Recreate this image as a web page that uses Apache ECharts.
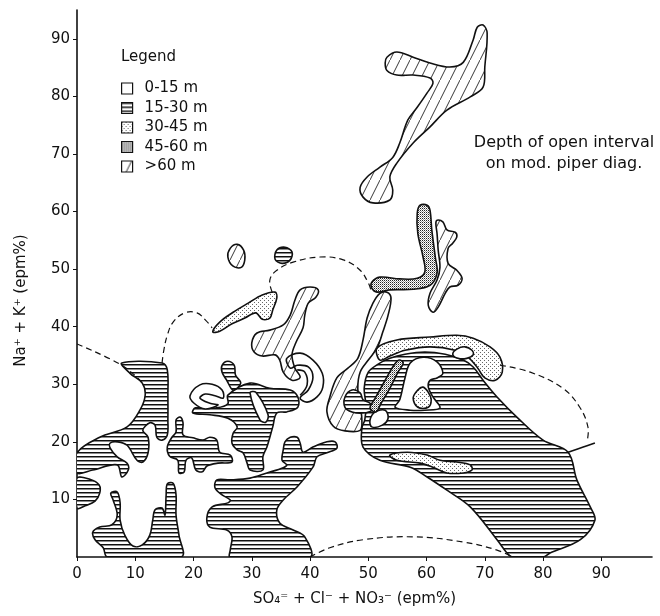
<!DOCTYPE html>
<html><head><meta charset="utf-8">
<script src="https://cdn.jsdelivr.net/npm/echarts/dist/echarts.min.js"></script>
<style>html,body{margin:0;padding:0;background:#fff}#c{width:660px;height:616px}</style>
</head><body><div id="c"></div>
<script>
// ---- axis ticks / classes ----
const xTickValues = [0,10,20,30,40,50,60,70,80,90];
const yTickValues = [10,20,30,40,50,60,70,80,90];
const depthClasses = ['0-15 m','15-30 m','30-45 m','45-60 m','>60 m'];

// ---- 15-30 m (horizontal hatch) regions, in (SO4+Cl+NO3, Na+K) epm% ----
const hatchA = [[0,18.1],[3.9,20.8],[8.6,22.6],[10.8,25.5],[11.7,28.1],[11.2,30.2],[9.1,31.9],[7.7,33.7],[14.6,33.7],[15.5,32.5],[15.6,28.1],[15.6,23.8],[15.5,21.2],[14.6,20.3],[13.7,20.8],[13.4,22.9],[12.5,23.3],[11.3,22.0],[12.2,20.8],[12.2,18.1],[11.3,16.5],[10.3,16.8],[8.6,19.4],[7.0,20.0],[5.7,19.8],[5.7,18.9],[6.9,17.4],[8.6,16.3],[8.8,15.1],[7.7,13.9],[6.9,16.0],[2.7,15.1],[0,14.6]];
const hatchB = [[0,13.7],[2.2,13.5],[3.8,12.5],[3.9,11.1],[3.1,9.7],[1.4,8.9],[0,8.5]];
const hatchC = [[5.2,0],[4.5,1.6],[3.1,3.0],[2.7,4.3],[3.9,5.2],[6.0,5.6],[6.9,7.3],[6.2,9.9],[5.8,11.1],[6.9,11.3],[7.4,9.4],[7.4,6.4],[8.2,3.8],[9.6,1.9],[11.2,2.1],[12.5,3.8],[13.0,6.4],[13.4,8.2],[14.6,8.5],[15.1,7.3],[15.3,10.8],[15.5,12.7],[16.5,12.8],[17.0,10.8],[17.0,7.3],[17.5,3.8],[17.9,0]];
const hatchD = [[15.5,19.1],[16.3,20.8],[17.0,21.7],[17.0,23.8],[17.7,24.3],[18.2,23.3],[18.2,21.2],[19.9,20.7],[21.6,20.3],[22.8,20.8],[24.0,20.3],[24.5,18.2],[26.3,17.7],[26.6,16.5],[24.2,16.3],[22.3,15.8],[21.5,14.8],[20.4,15.1],[19.7,17.2],[18.7,16.8],[18.4,14.8],[17.5,14.6],[17.3,16.8],[15.9,17.5]];
const hatchE = [[26.3,0],[40.0,0],[39.1,3.5],[37.1,4.7],[34.8,5.9],[34.3,8.2],[35.4,9.9],[37.8,12.2],[40.5,15.6],[41.2,17.4],[42.9,18.1],[44.6,18.9],[44.3,20.0],[42.9,20.0],[40.5,19.1],[38.8,18.2],[38.3,19.8],[37.8,20.8],[36.6,20.8],[35.7,20.0],[35.4,18.6],[35.2,16.8],[36.0,16.0],[35.4,15.5],[32.6,14.6],[29.7,13.7],[26.3,13.4],[24.0,13.4],[23.7,12.0],[24.9,10.8],[26.3,9.9],[25.9,9.4],[23.2,8.7],[22.3,6.9],[22.8,5.2],[25.7,4.7],[26.6,3.5],[26.3,1.2]];
const hatchF = [[48.9,22.4],[49.1,19.1],[52.0,16.8],[57.2,15.6],[60.1,13.9],[63.5,11.6],[67.5,8.7],[72.1,3.0],[73.8,0.7],[74.7,0],[80.0,0],[81.2,0.7],[86.4,3.0],[88.9,6.4],[88.1,8.7],[85.8,13.4],[84.3,18.2],[80.0,20.3],[75.5,24.3],[72.1,27.8],[69.7,30.7],[68.0,33.0],[66.3,34.2],[63.2,35.2],[59.7,35.6],[56.3,35.2],[53.7,34.5],[51.7,33.5],[50.0,32.1],[49.3,29.3],[49.6,26.4],[49.4,23.8]];
const hatchM = [[25.9,28.1],[29.7,30.2],[33.1,29.3],[36.6,29.0],[37.9,27.8],[37.9,26.0],[36.0,25.2],[34.3,25.0],[33.6,22.6],[33.1,20.8],[32.6,19.1],[31.9,17.4],[31.9,15.1],[29.7,15.1],[29.2,16.3],[28.5,18.1],[27.5,18.6],[26.6,19.8],[26.8,21.5],[27.5,22.6],[25.9,24.1],[22.8,24.7],[19.9,25.0],[20.3,25.9],[24.0,25.9],[25.9,26.6]];
const hatchFinger = [[24.9,33.3],[25.9,34.0],[27.0,33.3],[27.2,31.6],[28.1,30.2],[26.8,29.0],[25.7,30.7],[24.9,32.1]];
const hatchOval = [[34.3,53.3],[35.7,53.8],[36.9,53.0],[36.6,51.6],[35.2,51.0],[34.0,51.7]];
const hatchInner = [[46.0,27.8],[47.2,29.0],[48.6,28.5],[49.1,27.3],[50.3,26.7],[50.6,25.5],[49.1,25.0],[47.2,25.2],[46.0,26.0]];

// ---- 30-45 m (light dots) ----
const dotQ = [[23.3,39.1],[24.5,40.8],[26.8,42.5],[29.4,44.1],[31.8,45.5],[34.0,46.0],[34.3,45.0],[33.6,42.9],[33.1,41.5],[31.8,41.3],[30.7,42.4],[28.8,41.5],[26.6,40.5],[24.5,39.2]];
const dotBand = [[51.5,36.3],[54.9,37.7],[60.6,38.2],[65.2,38.5],[68.0,38.0],[70.9,36.5],[72.6,34.7],[73.0,32.1],[71.8,30.7],[70.0,31.1],[68.8,32.8],[67.1,34.7],[64.9,35.9],[60.6,36.5],[56.3,35.9],[53.7,34.9],[52.0,34.2]];
const dotBlobF = [[53.7,17.7],[56.7,18.2],[60.1,17.7],[62.3,16.8],[65.2,16.5],[67.5,16.0],[67.8,15.1],[66.3,14.6],[63.5,14.6],[61.1,15.6],[58.9,16.3],[54.9,16.8]];
const dotMush = [[57.7,27.6],[58.5,29.0],[59.4,29.5],[60.3,28.6],[60.8,27.3],[60.3,26.0],[58.5,26.0]];

// ---- 45-60 m (dense dots) ----
const denseI = [[60.6,60.2],[60.9,56.8],[61.5,52.1],[61.8,49.3],[60.6,47.2],[57.7,46.5],[53.7,46.4],[51.5,46.0],[50.6,46.7],[50.6,47.7],[52.0,48.6],[55.4,48.3],[58.4,48.4],[59.7,49.5],[59.4,52.1],[58.5,56.2],[58.4,59.7],[58.9,61.1],[60.1,61.1]];
const denseStripe = [[50.3,25.9],[51.2,27.6],[52.9,30.7],[54.4,33.3],[55.3,34.2],[56.0,33.7],[55.1,32.1],[53.7,29.3],[52.2,26.7],[51.3,25.2]];

// ---- >60 m (diagonal hatch) ----
const diagH = [[53.2,86.8],[54.9,87.7],[57.7,86.8],[60.6,85.8],[64.0,85.1],[66.3,85.9],[68.0,89.8],[68.7,92.0],[69.7,92.4],[70.4,91.0],[70.0,85.1],[69.7,81.6],[67.5,79.9],[63.5,77.6],[60.6,74.7],[57.7,71.9],[54.9,68.4],[53.7,66.0],[54.2,63.7],[53.7,62.0],[50.8,61.5],[49.1,62.5],[48.6,64.2],[49.8,66.0],[52.0,67.7],[54.2,69.4],[55.4,71.9],[56.8,75.9],[58.4,78.1],[60.1,80.6],[61.1,82.3],[60.6,83.2],[57.7,83.7],[54.9,83.7],[53.2,84.5],[52.9,85.8]];
const diagJ = [[61.8,58.5],[62.8,58.2],[63.5,56.8],[64.9,56.4],[65.2,55.6],[64.5,54.5],[63.7,53.6],[63.7,51.0],[65.2,49.8],[66.1,48.4],[65.4,47.2],[64.0,46.9],[63.2,45.8],[62.0,43.4],[61.1,42.5],[60.3,43.7],[60.6,45.8],[61.8,48.1],[62.3,50.3],[62.0,53.3],[61.8,56.2],[61.6,57.9]];
const diagL = [[52.0,45.8],[53.2,46.0],[53.9,45.0],[53.4,42.0],[52.5,39.1],[51.5,36.3],[50.0,34.2],[48.6,32.1],[48.2,29.3],[48.6,26.4],[48.9,23.8],[48.6,22.0],[46.0,21.9],[44.0,22.7],[42.9,25.2],[43.4,27.8],[44.6,31.1],[46.5,32.8],[48.2,34.5],[49.1,37.7],[49.8,41.5],[50.8,44.1]];
const diagP = [[30.0,37.2],[30.9,38.9],[33.1,39.4],[35.4,40.3],[36.6,42.0],[37.4,44.6],[38.3,46.4],[40.0,46.9],[41.4,46.4],[41.0,45.1],[39.7,44.1],[39.1,42.0],[38.8,39.8],[37.6,37.3],[36.9,35.1],[37.4,32.8],[38.3,31.2],[36.9,30.7],[35.4,32.1],[34.8,34.2],[34.0,35.1],[31.8,34.9],[30.4,35.6]];
const diagOval = [[26.3,53.6],[27.5,54.3],[28.6,53.3],[28.8,51.6],[28.2,50.3],[26.8,50.5],[25.9,52.1]];

// ---- 0-15 m (open) ----
const whiteMush = [[55.4,27.3],[56.3,31.1],[57.2,33.7],[59.4,34.7],[61.8,33.9],[62.8,31.9],[61.8,31.1],[60.6,30.7],[60.3,29.5],[61.1,27.8],[62.3,25.9],[59.7,25.5],[57.2,25.5],[54.6,26.0]];
const whiteLobe = [[50.3,23.8],[51.2,25.2],[52.9,25.5],[53.4,24.1],[52.4,22.9],[50.6,22.6]];
const whiteOval = [[64.5,35.2],[65.2,36.1],[66.6,36.5],[67.8,35.9],[68.0,35.1],[66.9,34.5],[65.4,34.5]];
const whiteHook = [[19.4,28.0],[21.1,29.9],[23.2,30.0],[24.9,29.0],[25.1,27.6],[23.7,28.0],[22.0,28.3],[21.1,27.6],[22.8,26.7],[24.2,26.4],[22.0,25.7],[20.1,26.7]];
const whiteBar = [[29.7,28.5],[30.7,28.6],[32.8,24.7],[32.4,23.4],[31.4,23.8]];
const loopOuter = [[36.0,34.5],[38.3,35.4],[40.5,34.2],[42.1,31.9],[42.2,29.5],[41.2,27.8],[39.5,26.9],[38.3,27.6],[39.7,29.0],[40.5,31.2],[39.7,33.0],[37.8,33.3],[36.6,32.8]];

// ---- boundary lines ----
const dashLeft = [[0,37.0],[7.7,33.3],[11.0,30.5]];
const dashHump = [[14.6,33.7],[14.9,35.9],[15.5,38.5],[16.5,40.8],[18.5,42.4],[20.6,42.4],[22.1,41.1],[23.2,39.8]];
const dashTop = [[33.5,46.0],[33.1,48.1],[34.3,49.8],[37.1,51.2],[41.7,52.1],[45.7,51.6],[48.6,49.8],[50.0,47.6],[50.5,46.2]];
const dashBottom = [[40.0,0],[43.4,1.6],[49.1,3.0],[57.7,3.5],[66.3,2.6],[72.1,1.2],[74.7,0]];
const dashRight = [[72.6,33.3],[77.8,32.1],[83.4,29.3],[86.3,26.0],[87.7,22.6],[87.6,20.3]];
const lobeEdge = [[84.3,18.2],[86.9,19.1],[88.9,19.8]];
const loopInner = [[37.8,32.5],[39.1,32.1],[39.5,29.9],[38.3,28.1]];

// ---- fill patterns ----
function makePattern(w, h, draw) {
  const c = document.createElement('canvas'); c.width = w; c.height = h;
  const g = c.getContext('2d'); g.fillStyle = '#fff'; g.fillRect(0, 0, w, h);
  draw(g); return { image: c, repeat: 'repeat' };
}
const patWhite = '#ffffff';
const patHoriz = makePattern(8, 4, g => { g.fillStyle = '#111'; g.fillRect(0, 0, 8, 1); g.fillStyle = '#8a8a8a'; g.fillRect(0, 1, 8, 1); });
const patDots = makePattern(4, 4, g => { g.fillStyle = '#666'; g.fillRect(0, 0, 1, 1); g.fillRect(2, 2, 1, 1); });
const patDense = makePattern(2, 2, g => { g.fillStyle = '#222'; g.fillRect(0, 0, 1, 1); g.fillStyle = '#999'; g.fillRect(1, 1, 1, 1); });
const patDiag = makePattern(10, 20, g => { g.strokeStyle = '#222'; g.lineWidth = 0.9; g.beginPath(); g.moveTo(-1, 22); g.lineTo(11, -2); g.stroke(); });

function polySeries(name, shapes, layers, fill, strokeOnly) {
  return {
    type: 'custom', name: name, coordinateSystem: 'cartesian2d', clip: true, silent: true,
    animation: false,
    itemStyle: { color: fill, borderColor: '#111', borderWidth: 1 },
    data: shapes.map((s, i) => [s[0][0], s[0][1], i]),
    encode: { x: 0, y: 1 },
    renderItem: function (params, api) {
      const i = params.dataIndex;
      const pts = shapes[i].map(p => api.coord(p));
      return {
        type: 'polygon', z2: layers[i],
        shape: { points: pts, smooth: 0.35 },
        style: { fill: strokeOnly ? null : fill, stroke: '#111', lineWidth: 1.6 }
      };
    }
  };
}
function lineSeries(name, lines, dashed) {
  return {
    type: 'custom', name: name, coordinateSystem: 'cartesian2d', clip: true, silent: true,
    animation: false,
    data: lines.map((s, i) => [s[0][0], s[0][1], i]),
    encode: { x: 0, y: 1 },
    renderItem: function (params, api) {
      const pts = lines[params.dataIndex].map(p => api.coord(p));
      return {
        type: 'polyline', z2: 20,
        shape: { points: pts, smooth: 0.4 },
        style: { fill: null, stroke: '#111', lineWidth: dashed ? 1.2 : 1.6, lineDash: dashed ? [6, 4] : null }
      };
    }
  };
}

const FONT = 'DejaVu Sans, Verdana, sans-serif';
const FS = 15;
const chart = echarts.init(document.getElementById('c'), null, { renderer: 'canvas' });
chart.setOption({
  animation: false,
  backgroundColor: '#fff',
  title: [
    { text: 'Legend', left: 121, top: 50, padding: 0, textStyle: { fontSize: FS, fontWeight: 'normal', color: '#111', fontFamily: FONT } },
    { text: 'Depth of open interval\non mod. piper diag.', left: 564, top: 132, padding: 0, textAlign: 'center',
      textStyle: { fontSize: FS + 1, fontWeight: 'normal', color: '#111', fontFamily: FONT, lineHeight: 21 } }
  ],
  legend: {
    data: depthClasses, orient: 'vertical', left: 121, top: 81, padding: 0,
    itemWidth: 11, itemHeight: 11, itemGap: 4.5, icon: 'rect', selectedMode: false,
    itemStyle: { borderColor: '#111', borderWidth: 1.2 },
    textStyle: { fontSize: FS, lineHeight: 15, color: '#111', fontFamily: FONT, padding: [0, 0, 0, 7] }
  },
  grid: { left: 77, right: 8, top: 10, bottom: 59 },
  xAxis: {
    type: 'value', min: 0, max: 98.7,
    name: 'SO\u2084\u207C + Cl\u207B + NO\u2083\u207B (epm%)', nameLocation: 'middle', nameGap: 35,
    nameTextStyle: { fontSize: FS, color: '#111', fontFamily: FONT, padding: [0, 20, 0, 0] },
    axisLine: { lineStyle: { color: '#111', width: 1.6 } },
    axisTick: { length: 4, lineStyle: { color: '#111' }, customValues: xTickValues },
    axisLabel: { fontSize: FS, color: '#111', fontFamily: FONT, margin: 10, customValues: xTickValues },
    splitLine: { show: false }
  },
  yAxis: {
    type: 'value', min: 0, max: 95,
    name: 'Na\u207A + K\u207A (epm%)', nameLocation: 'middle', nameGap: 48,
    nameTextStyle: { fontSize: FS, color: '#111', fontFamily: FONT, padding: [0, 34, 0, 0] },
    axisLine: { lineStyle: { color: '#111', width: 1.6 } },
    axisTick: { length: 4, lineStyle: { color: '#111' }, customValues: yTickValues },
    axisLabel: { fontSize: FS, color: '#111', fontFamily: FONT, margin: 7, customValues: yTickValues },
    splitLine: { show: false }
  },
  series: [
    polySeries('15-30 m',
      [hatchA, hatchB, hatchC, hatchD, hatchE, hatchF, hatchM, hatchFinger, hatchOval, hatchInner],
      [1, 1, 1, 1, 1, 1, 1, 1, 1, 4], patHoriz),
    polySeries('30-45 m', [dotQ, dotBand, dotBlobF, dotMush], [2, 2, 2, 6], patDots),
    polySeries('45-60 m', [denseI, denseStripe], [2, 6], patDense),
    polySeries('>60 m', [diagH, diagJ, diagL, diagP, diagOval], [2, 2, 3, 2, 2], patDiag),
    polySeries('0-15 m', [whiteMush, whiteLobe, whiteOval, whiteHook, whiteBar], [5, 5, 5, 5, 5], patWhite),
    polySeries('outline', [loopOuter], [7], null, true),
    lineSeries('dashed boundary', [dashLeft, dashHump, dashTop, dashBottom, dashRight], true),
    lineSeries('solid boundary', [lobeEdge, loopInner], false)
  ]
});
</script>
</body></html>
